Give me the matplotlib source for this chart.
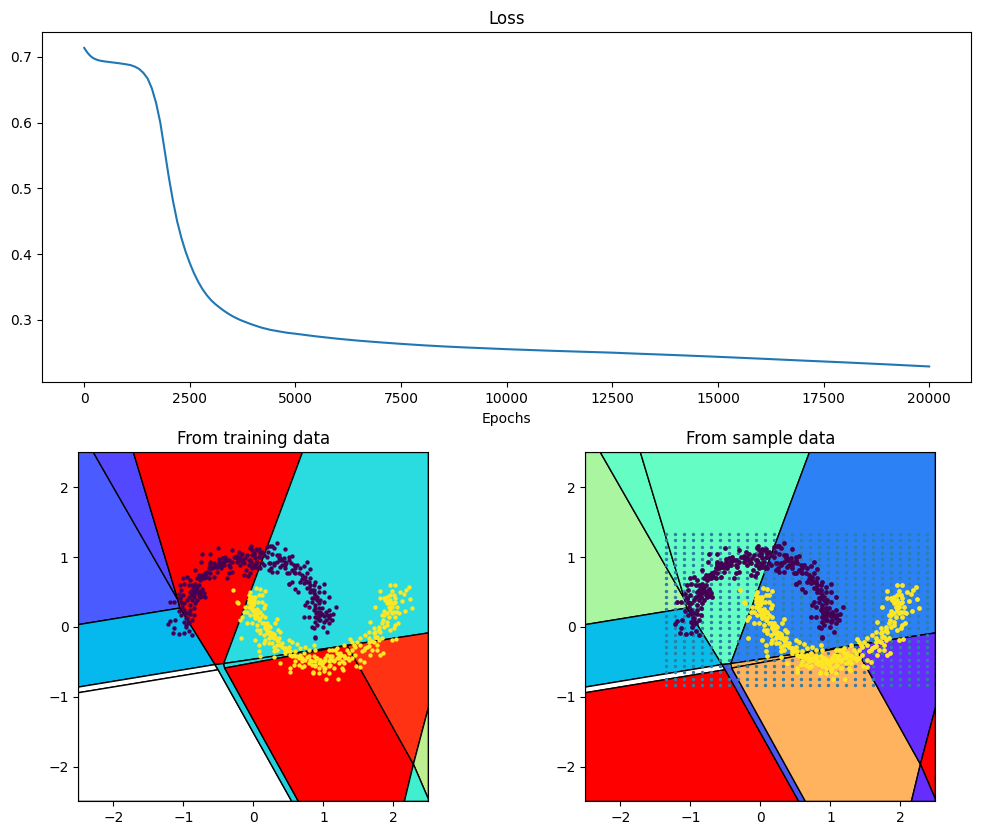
import matplotlib
matplotlib.use("Agg")
import matplotlib.pyplot as plt

W, H = 981, 836

loss_epochs = [0, 40, 80, 120, 160, 200, 260, 320, 400, 500, 600, 700, 800, 900, 1000, 1100, 1200, 1300, 1400,
               1500, 1600, 1700, 1800, 1900, 2000, 2100, 2200, 2300, 2400, 2500, 2600, 2700, 2800, 2900, 3000,
               3100, 3200, 3300, 3400, 3500, 3600, 3700, 3800, 3900, 4000, 4200, 4400, 4600, 4800, 5000, 5500,
               6000, 6500, 7000, 7500, 8000, 8500, 9000, 10000, 11000, 12000, 12500, 13000, 14000, 15000, 16000,
               17000, 17500, 18000, 19000, 20000]
loss_values = [0.7135, 0.7095, 0.706, 0.703, 0.7005, 0.6985, 0.6965, 0.695, 0.6938, 0.6928, 0.692, 0.6912, 0.6904,
               0.6895, 0.6885, 0.6873, 0.685, 0.6815, 0.6755, 0.667, 0.652, 0.630, 0.600, 0.559, 0.5175, 0.481,
               0.4495, 0.4245, 0.4035, 0.386, 0.3705, 0.3575, 0.3465, 0.3375, 0.3300, 0.3240, 0.3188, 0.3140,
               0.3097, 0.3058, 0.3025, 0.2995, 0.297, 0.2945, 0.2922, 0.288, 0.2848, 0.2825, 0.2803, 0.2788,
               0.2747, 0.2712, 0.2682, 0.2657, 0.2634, 0.2613, 0.2595, 0.2580, 0.2553, 0.2530, 0.2510, 0.2500,
               0.2487, 0.2463, 0.2437, 0.2409, 0.2380, 0.2366, 0.2352, 0.2322, 0.2290]

region_polygons = [
    [(-2.5, 2.5), (-2.286, 2.5), (-1.08, 0.39), (-1.05, 0.27), (-2.5, 0.033)],
    [(-2.286, 2.5), (-1.714, 2.5), (-1.08, 0.39)],
    [(-1.714, 2.5), (0.70, 2.5), (-0.424, -0.525), (-0.55, -0.54), (-1.05, 0.27), (-1.08, 0.39)],
    [(0.70, 2.5), (2.5, 2.5), (2.5, -0.086), (1.34, -0.265), (-0.424, -0.525)],
    [(-2.5, 0.033), (-1.05, 0.27), (-0.55, -0.54), (-2.5, -0.862)],
    [(-2.5, -0.862), (-0.55, -0.54), (-0.504, -0.614), (-2.5, -0.943)],
    [(-2.5, -0.943), (-0.504, -0.614), (0.548, -2.5), (-2.5, -2.5)],
    [(-0.55, -0.54), (-0.424, -0.525), (-0.41, -0.59), (0.643, -2.5), (0.548, -2.5), (-0.504, -0.614)],
    [(-0.424, -0.525), (1.34, -0.265), (-0.41, -0.59)],
    [(-0.41, -0.59), (1.34, -0.265), (2.286, -1.967), (2.157, -2.5), (0.643, -2.5)],
    [(1.34, -0.265), (2.5, -0.086), (2.5, -1.157), (2.286, -1.967)],
    [(2.5, -1.157), (2.286, -1.967), (2.5, -2.467)],
    [(2.286, -1.967), (2.5, -2.467), (2.5, -2.5), (2.157, -2.5)],
]
colors_training = ['#4a5bff', '#5448ff', '#ff0000', '#2adce0', '#05b8ee', '#ffffff', '#ffffff', '#22cfdc',
                   '#2adce0', '#ff0000', '#ff3214', '#bdee90', '#40eed0']
colors_sample = ['#a9f5a0', '#64fdc4', '#64fdc4', '#2c82f5', '#08bdea', '#ffffff', '#ff0000', '#4a55f0',
                 '#ffb35f', '#ffb35f', '#662dff', '#ff0000', '#662dff']

class0_points = [
    (-1.186,0.352),(-1.138,0.362),(-1.224,0.038),(-1.186,0.09),(-1.114,0.095),(-1.13,-0.02),(-1.15,-0.09),
    (-1.057,-0.105),(-0.986,-0.09),(-0.88,-0.11),(-0.924,-0.057),(-0.97,0.005),(-0.995,0.067),(-1.04,0.17),
    (-1.07,0.23),(-1.02,0.29),(-1.03,0.36),(-0.985,0.34),(-1.05,0.41),(-1.07,0.47),(-1.0,0.457),(-1.04,0.53),
    (-1.05,0.60),(-0.995,0.61),(-1.0,0.695),(-0.95,0.72),(-0.90,0.67),(-0.925,0.60),(-0.876,0.60),(-0.85,0.55),
    (-0.80,0.53),(-0.83,0.48),(-0.88,0.46),(-0.78,0.457),(-0.92,0.43),(-0.95,0.39),(-0.88,0.39),(-0.90,0.314),
    (-0.83,0.34),(-0.85,0.27),(-0.91,0.24),(-0.95,0.195),(-0.90,0.18),(-0.957,0.124),(-0.94,0.067),(-0.876,0.10),
    (-0.85,0.17),(-0.83,0.62),(-0.78,0.60),(-0.73,0.55),(-0.71,0.48),(-0.686,0.43),(-0.757,0.67),(-0.83,0.81),
    (-0.73,0.70),(-0.686,0.74),(-0.64,0.70),(-0.614,0.77),(-0.567,0.72),(-0.52,0.79),(-0.59,0.84),(-0.54,0.86),
    (-0.614,0.93),(-0.733,1.05),(-0.747,0.93),(-0.614,1.05),(-0.51,1.13),(-0.495,0.97),(-0.447,0.98),(-0.40,0.957),
    (-0.424,0.886),(-0.47,0.84),(-0.305,1.10),(-0.28,1.0),(-0.305,0.93),(-0.35,0.77),(-0.376,0.70),(-0.305,0.78),
    (-0.21,1.08),(-0.16,1.05),(-0.186,0.886),(-0.138,0.75),(-0.08,0.73),(-0.043,0.77),(-0.066,0.886),(-0.02,1.03),
    (-0.033,1.16),(0.03,1.11),(0.076,1.12),(0.005,0.886),(0.05,0.86),(0.10,0.84),(0.12,0.91),(0.148,1.03),
    (0.195,1.15),(0.243,1.16),(0.29,1.13),(0.205,1.08),(0.267,1.04),(0.338,1.03),(0.385,0.99),(0.457,1.11),
    (0.443,0.99),(0.29,0.91),(0.252,0.84),(0.385,0.86),(0.47,0.91),(0.505,0.957),(0.505,0.62),(0.338,1.2),
    (0.267,1.157),(0.362,1.03),(0.505,1.0),(0.553,1.014),(0.386,0.957),(0.457,0.93),(0.53,0.91),(0.576,0.886),
    (0.624,0.886),(0.60,0.84),(0.553,0.814),(0.767,0.933),(0.72,0.87),(0.67,0.84),(0.815,0.824),(0.767,0.776),
    (0.695,0.743),(0.743,0.72),(0.815,0.695),(0.886,0.648),(1.005,0.614),(0.933,0.576),(0.862,0.60),(0.79,0.648),
    (0.72,0.624),(0.67,0.648),(0.553,0.648),(0.505,0.614),(0.60,0.543),(0.633,0.495),(0.767,0.552),(0.815,0.505),
    (0.862,0.48),(0.933,0.505),(1.005,0.505),(1.076,0.433),(0.838,0.41),(0.91,0.433),(0.957,0.386),(1.005,0.362),
    (0.767,0.362),(0.743,0.314),(0.79,0.29),(1.186,0.29),(1.076,0.243),(0.886,0.314),(0.933,0.267),(0.98,0.267),
    (1.03,0.22),(0.91,0.195),(0.886,0.148),(0.957,0.17),(1.005,0.157),(1.10,0.17),(1.138,0.186),(1.076,0.124),
    (1.124,0.10),(1.03,0.10),(0.933,0.10),(0.72,0.148),(0.80,0.14),(0.886,0.076),(0.91,0.03),(0.838,0.005),
    (0.99,-0.005),(1.076,0.05),(1.05,-0.076),(0.862,-0.02),(0.876,-0.148),(0.886,-0.166),(-0.162,0.957),
    (-0.043,1.124),(0.005,1.03),(0.052,1.10),(0.10,1.005),(0.03,0.91),(0.076,0.862),(0.124,1.076),(0.148,0.886),
    (0.195,1.005),(0.243,0.91),(0.267,0.79),(0.338,0.78),(0.22,0.814),(0.362,0.98),(0.41,0.886),(0.457,0.838),
    (0.505,0.767),(0.60,0.767),(0.48,0.767),(-0.614,0.886),(-0.54,0.886),(-0.447,0.886),(-0.567,0.91),
    (-0.495,0.93),(-0.40,1.005),(-0.35,0.957),(-0.614,0.838),(-0.71,0.695),(-0.662,0.79),(-0.78,0.72),(-0.83,0.55),
    (-0.78,0.50),(-0.74,0.53),(-0.76,0.43),(-0.85,0.43),(-0.81,0.39),(-0.24,0.93),(-0.12,0.98),(-0.09,1.03),
    (-0.06,0.96),(-0.03,0.93),(-0.02,0.84),(-0.10,0.81),(-0.24,1.01),(-0.19,1.0),(-0.15,0.93),
    (-0.853,0.576),(-0.876,0.529),(-0.829,0.6),(-0.805,0.576),(-0.9,0.505),(-0.853,0.481),(-0.781,0.505),
    (-0.757,0.481),(-0.719,0.448),(-1.043,0.41),(-1.019,0.338),(-0.995,0.243),(-0.971,0.195),(-0.948,0.124),
    (-0.924,0.052),(-0.957,0.029),(-0.614,0.91),(-0.567,0.862),(-0.519,0.862),(-0.495,0.886),(-0.448,0.91),
    (-0.424,0.933),(-0.376,0.957),(-0.353,0.886),(-0.329,0.862),(-0.234,0.981),(-0.186,0.957),(-0.138,0.91),
    (-0.053,0.957),(-0.019,1.1),(0.005,1.052),(0.028,0.981),(0.052,0.933),(0.076,1.005),(0.1,1.052),(0.028,0.862),
    (-0.019,0.862),(-0.638,0.838),(-0.686,0.767),(-0.733,0.743),(-0.781,0.743),(-0.805,0.695),(-0.662,0.719),
    (0.767,0.648),(0.815,0.6),(0.838,0.529),(0.886,0.457),(0.91,0.386),(0.933,0.338),(0.886,0.267),(0.91,0.219),
    (0.957,0.219),(0.91,0.124),(0.957,0.1),(1.005,0.076),(1.052,0.171),(0.695,0.681),(0.648,0.767),(0.576,0.79),
    (0.457,0.886),(0.41,0.957),(0.338,0.933),(0.29,0.886),(0.22,0.91),(0.72,0.7),(0.745,0.66),(0.8,0.56),(0.86,0.53),
    (0.87,0.42),(0.84,0.35),(0.98,0.18),(0.93,0.16),(0.86,0.24),(0.89,0.2),
]
class1_points = [
    (-0.295,0.53),(-0.233,0.362),(-0.22,0.34),(-0.043,0.495),(-0.057,0.457),(-0.019,0.433),(-0.067,0.395),(0.005,0.386),
    (-0.043,0.338),(-0.029,0.29),(0.038,0.562),(0.10,0.538),(0.162,0.519),(0.076,0.457),(0.124,0.457),(0.067,0.362),
    (0.124,0.362),(-0.057,0.29),(-0.114,0.29),(-0.138,0.219),(-0.162,0.148),(-0.186,0.10),(-0.09,0.219),(-0.043,0.171),
    (0.005,0.219),(0.052,0.186),(0.10,0.219),(0.148,0.267),(0.162,0.314),(0.029,0.124),(0.10,0.124),(0.172,0.148),
    (0.124,0.171),(-0.09,0.053),(-0.019,0.062),(0.052,0.029),(0.124,0.053),(0.195,0.062),(0.22,0.014),(0.052,-0.043),
    (0.10,-0.043),(0.162,-0.019),(0.243,0.005),(0.314,0.053),(0.338,0.11),(0.353,-0.043),(0.386,-0.066),(0.029,-0.186),
    (-0.171,-0.152),(0.10,-0.09),(0.148,-0.114),(0.195,-0.09),(0.243,-0.114),(0.172,-0.186),(0.22,-0.162),(0.267,-0.138),
    (0.314,-0.138),(0.362,-0.162),(0.076,-0.257),(0.148,-0.233),(0.22,-0.233),(0.267,-0.233),(0.29,-0.281),(0.338,-0.257),
    (0.386,-0.257),(0.076,-0.352),(0.10,-0.414),(0.29,-0.352),(0.29,-0.433),(0.338,-0.328),(0.41,-0.281),(0.457,-0.305),
    (0.505,-0.186),(0.552,-0.21),(0.505,-0.281),(0.624,-0.243),(0.457,-0.376),(0.529,-0.352),(0.60,-0.352),(0.672,-0.305),
    (0.743,-0.29),(0.862,-0.257),(0.886,-0.328),(0.79,-0.328),(0.386,-0.519),(0.529,-0.59),(0.529,-0.652),(0.60,-0.495),
    (0.672,-0.40),(0.72,-0.376),(0.624,-0.424),(0.552,-0.424),(0.576,-0.543),(0.648,-0.543),(0.695,-0.495),(0.767,-0.433),
    (0.815,-0.471),(0.72,-0.567),(0.838,-0.543),(0.933,-0.519),(0.981,-0.543),(1.052,-0.40),(1.124,-0.328),(1.195,-0.305),
    (1.29,-0.257),(1.22,-0.40),(1.29,-0.424),(1.124,-0.424),(1.029,-0.471),(1.148,-0.495),(1.22,-0.519),(1.29,-0.519),
    (0.933,-0.59),(1.005,-0.59),(1.076,-0.567),(0.848,-0.652),(1.038,-0.743),(1.21,-0.743),(0.933,-0.662),
    (1.086,-0.329),(1.171,-0.329),(1.386,-0.176),(1.41,-0.21),(1.529,-0.162),(1.648,-0.162),(1.719,-0.091),(1.648,-0.067),
    (1.6,-0.115),(1.529,-0.257),(1.457,-0.281),(1.41,-0.329),(1.362,-0.376),(1.315,-0.448),(1.267,-0.495),(1.219,-0.448),
    (1.148,-0.472),(1.10,-0.543),(1.029,-0.591),(0.981,-0.519),(0.886,-0.543),(0.838,-0.495),(0.696,-0.577),(0.853,-0.662),
    (1.005,-0.638),(1.076,-0.662),(1.148,-0.591),(1.267,-0.591),(1.276,-0.615),(1.41,-0.448),(1.529,-0.472),(1.472,-0.567),
    (1.519,-0.577),(1.577,-0.496),(1.672,-0.4),(1.696,-0.329),(1.767,-0.329),(1.815,-0.4),(1.848,-0.376),(1.767,-0.257),
    (1.79,-0.186),(1.838,-0.162),(1.981,-0.186),(2.043,-0.172),(1.719,-0.019),(1.79,0.004),(1.838,0.052),(1.91,0.076),
    (1.957,-0.043),(2.029,0.028),(2.062,0.062),(2.005,-0.019),(1.662,0.076),(1.815,-0.067),(1.743,-0.138),(1.838,0.171),
    (1.872,0.171),(1.981,0.195),(2.053,0.219),(2.076,0.195),(2.029,0.147),(1.934,0.147),(1.872,0.233),(1.934,0.29),
    (1.886,0.385),(1.957,0.385),(2.029,0.409),(1.981,0.338),(2.053,0.29),(1.91,0.338),(1.743,0.281),(1.815,0.409),
    (1.862,0.409),(1.815,0.519),(1.957,0.6),(2.029,0.6),(1.981,0.519),(2.091,0.505),(2.148,0.471),(2.186,0.528),
    (2.219,0.566),(2.124,0.371),(2.243,0.395),(2.267,0.266),(2.172,0.233),(1.957,0.457),(2.005,0.457),(1.91,0.433),
    (1.85,0.1),(1.8,-0.05),(1.75,-0.15),(1.7,-0.2),(1.65,-0.28),(1.6,-0.3),(1.55,-0.35),(1.45,-0.4),(1.35,-0.45),
    (1.25,-0.4),(1.1,-0.45),(1.0,-0.5),(0.9,-0.45),(0.8,-0.42),(0.7,-0.45),(0.6,-0.42),(0.5,-0.35),(0.45,-0.3),
    (0.35,-0.2),(0.3,-0.1),(0.2,-0.05),(0.18,0.03),(0.05,0.25),(0.0,0.32),(-0.02,0.25),(-0.03,0.4),(0.02,0.43),
    (-0.043,0.41),(-0.019,0.362),(0.005,0.338),(-0.067,0.362),(-0.019,0.243),(0.029,0.243),(0.076,0.219),(0.052,0.148),
    (0.076,0.1),(0.005,0.171),(0.148,0.053),(0.172,0.005),(0.195,-0.043),(0.243,-0.067),(0.267,-0.09),(0.29,-0.162),
    (0.338,-0.186),(0.41,-0.233),(0.457,-0.328),(0.529,-0.4),(0.576,-0.4),(0.648,-0.448),(0.695,-0.448),(0.743,-0.471),
    (0.79,-0.519),(0.886,-0.495),(0.957,-0.471),(1.005,-0.495),(1.076,-0.495),(0.886,-0.567),(1.124,-0.471),(1.195,-0.448),
    (1.243,-0.4),(1.767,-0.138),(1.743,-0.067),(1.79,-0.043),(1.862,0.004),(1.91,0.028),(1.91,0.195),(1.957,0.243),
    (2.005,0.219),(1.981,0.29),(2.005,0.338),(1.957,0.338),(1.91,0.385),(2.029,0.362),(1.576,-0.329),(1.624,-0.281),
    (1.648,-0.21),(1.719,-0.21),(1.48,-0.21),(1.434,-0.257),(1.338,-0.329),(1.243,-0.376),(1.195,-0.376),(1.1,-0.424),
    (1.029,-0.448),(0.957,-0.472),(0.91,-0.448),(0.862,-0.424),(1.362,-0.472),(1.29,-0.424),
]
grid_x = [-1.343, -1.215, -1.087, -0.958, -0.830, -0.702, -0.573, -0.445, -0.317, -0.188, -0.060, 0.068, 0.197,
          0.325, 0.453, 0.582, 0.710, 0.838, 0.967, 1.095, 1.223, 1.352, 1.480, 1.608, 1.737, 1.865, 1.993, 2.122,
          2.250, 2.378]
grid_y = [1.33, 1.24, 1.15, 1.06, 0.97, 0.88, 0.79, 0.70, 0.61, 0.52, 0.43, 0.34, 0.25, 0.16, 0.07, -0.02, -0.11,
          -0.20, -0.29, -0.38, -0.47, -0.56, -0.65, -0.74, -0.83]


def axes_at(fig, x0, y0, x1, y1):
    return fig.add_axes([x0 / W, 1 - y1 / H, (x1 - x0) / W, (y1 - y0) / H])


def draw_regions(ax, colors):
    for poly, col in zip(region_polygons, colors):
        xs, ys = zip(*poly)
        ax.fill(xs, ys, facecolor=col, edgecolor='black', linewidth=1.0, zorder=1)


def draw_moons(ax, size):
    x0, y0 = zip(*class0_points)
    x1, y1 = zip(*class1_points)
    ax.scatter(x0, y0, s=size, color='#440154', linewidths=0, zorder=4)
    ax.scatter(x1, y1, s=size, color='#fde725', linewidths=0, zorder=4)


fig = plt.figure(figsize=(W / 100, H / 100), dpi=100)

ax_loss = axes_at(fig, 42, 32, 971.4, 382.4)
ax_loss.plot(loss_epochs, loss_values, color='#1f77b4')
ax_loss.set_title('Loss')
ax_loss.set_xlabel('Epochs')

ax_train = axes_at(fig, 78.4, 452.4, 428.4, 801.4)
draw_regions(ax_train, colors_training)
draw_moons(ax_train, 10)
ax_train.set_title('From training data')

ax_sample = axes_at(fig, 585.4, 452.4, 935.4, 801.4)
draw_regions(ax_sample, colors_sample)
gx = [x for y in grid_y for x in grid_x]
gy = [y for y in grid_y for x in grid_x]
ax_sample.scatter(gx, gy, s=6, color='#2d7fa8', linewidths=0, zorder=3)
draw_moons(ax_sample, 12)
ax_sample.set_title('From sample data')

for ax in (ax_train, ax_sample):
    ax.set_xlim(-2.5, 2.5)
    ax.set_ylim(-2.5, 2.5)
    ax.set_xticks([-2, -1, 0, 1, 2])
    ax.set_yticks([-2, -1, 0, 1, 2])

fig.savefig('out.png', dpi=100)
